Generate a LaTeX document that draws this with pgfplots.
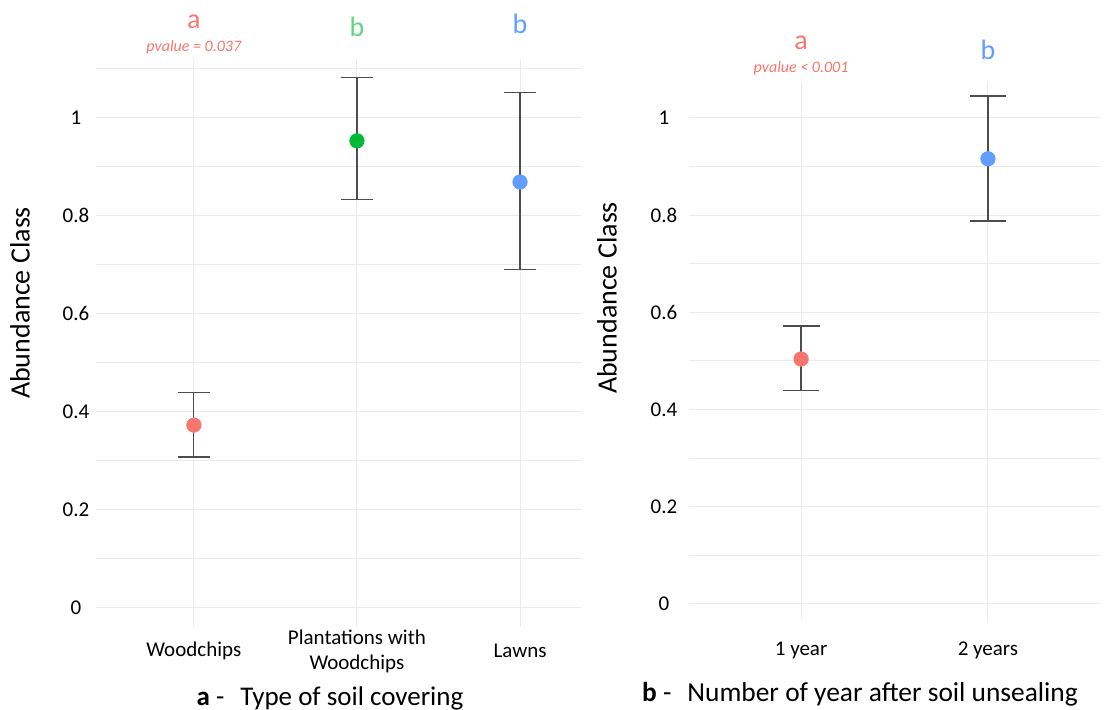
\documentclass[border=0pt]{standalone}
\usepackage{pgfplots}
\pgfplotsset{compat=1.18}
\usepackage{fontspec}
\setmainfont{Carlito}
\definecolor{cred}{HTML}{F8766D}
\definecolor{cgreen}{HTML}{00BA38}
\definecolor{cblue}{HTML}{619CFF}
\definecolor{gridc}{HTML}{EBEBEB}
\definecolor{errc}{HTML}{4D4D4D}
\pgfplotsset{
  panel/.style={
    anchor=south west, scale only axis, clip=false,
    axis line style={draw=none}, tick style={draw=none},
    xmajorgrids, ymajorgrids, yminorgrids,
    major grid style={gridc, line width=0.5pt},
    minor grid style={gridc, line width=0.5pt},
    ytick={0,0.2,0.4,0.6,0.8,1},
    /pgf/number format/assume math mode=true,
    tick label style={font=\fontsize{10.5}{12.5}\selectfont, black},
    xtick={1,2,3},
  },
  ebar/.style={draw=none, mark=none, forget plot,
    error bars/.cd, y dir=both, y explicit,
    error bar style={errc, line width=0.6pt},
    error mark options={errc, line width=0.6pt, mark size=#1, rotate=90}},
}
\begin{document}
\begin{tikzpicture}
\path[use as bounding box] (0,0) rectangle (554pt,354.5pt);
% ---------------- left panel
\begin{axis}[panel, at={(48pt,41pt)}, width=242.5pt, height=284pt,
  xmin=0.4, xmax=3.374, ymin=-0.039, ymax=1.12,
  minor ytick={0.1,0.3,0.5,0.7,0.9,1.1},
  xticklabels={Woodchips, {Plantations with\\Woodchips}, Lawns},
  xticklabel style={align=center, anchor=center, yshift=-12pt},
  yticklabel style={anchor=center, xshift=-10pt},
]
\addplot[ebar=8pt] coordinates {
  (1,0.373) += (0,0.066) -= (0,0.065)
  (2,0.953) += (0,0.129) -= (0,0.120)
  (3,0.869) += (0,0.182) -= (0,0.179)
};
\addplot[only marks, mark=*, mark size=3.6pt, cred, mark options={draw=none, fill=cred}] coordinates {(1,0.373)};
\addplot[only marks, mark=*, mark size=3.6pt, cgreen, mark options={draw=none, fill=cgreen}] coordinates {(2,0.953)};
\addplot[only marks, mark=*, mark size=3.6pt, cblue, mark options={draw=none, fill=cblue}] coordinates {(3,0.869)};
\node[cred, font=\fontsize{14}{16}\selectfont] at (axis cs:1,1.196) {a};
\node[cred, font=\fontsize{8}{10}\selectfont\itshape] at (axis cs:1,1.145) {pvalue = 0.037};
\node[cgreen!62!white, font=\fontsize{14}{16}\selectfont] at (axis cs:2,1.186) {b};
\node[cblue, font=\fontsize{14}{16}\selectfont] at (axis cs:3,1.192) {b};
\end{axis}
% ---------------- right panel
\begin{axis}[panel, at={(344.5pt,44.5pt)}, width=205.5pt, height=269pt,
  xmin=0.4, xmax=2.6, ymin=-0.033, ymax=1.074,
  minor ytick={0.1,0.3,0.5,0.7,0.9},
  xtick={1,2},
  xticklabels={1 year, 2 years},
  xticklabel style={anchor=center, yshift=-15pt},
  yticklabel style={anchor=center, xshift=-12.5pt},
]
\addplot[ebar=9.2pt] coordinates {
  (1,0.504) += (0,0.068) -= (0,0.064)
  (2,0.916) += (0,0.129) -= (0,0.128)
};
\addplot[only marks, mark=*, mark size=3.6pt, cred, mark options={draw=none, fill=cred}] coordinates {(1,0.504)};
\addplot[only marks, mark=*, mark size=3.6pt, cblue, mark options={draw=none, fill=cblue}] coordinates {(2,0.916)};
\node[cred, font=\fontsize{14}{16}\selectfont] at (axis cs:1,1.154) {a};
\node[cred, font=\fontsize{8}{10}\selectfont\itshape] at (axis cs:1,1.103) {pvalue < 0.001};
\node[cblue, font=\fontsize{14}{16}\selectfont] at (axis cs:2,1.14) {b};
\end{axis}
% ---------------- labels and titles
\node[rotate=90, font=\fontsize{14}{16}\selectfont] at (10pt,203pt) {Abundance Class};
\node[rotate=90, font=\fontsize{14}{16}\selectfont] at (303.5pt,205.5pt) {Abundance Class};
\node[font=\fontsize{13.5}{15}\selectfont] at (165pt,5.5pt) {\textbf{a} -\hspace{8pt}Type of soil covering};
\node[font=\fontsize{13.7}{15}\selectfont] at (430pt,7.5pt) {\textbf{b} -\hspace{8pt}Number of year after soil unsealing};
\end{tikzpicture}
\end{document}
